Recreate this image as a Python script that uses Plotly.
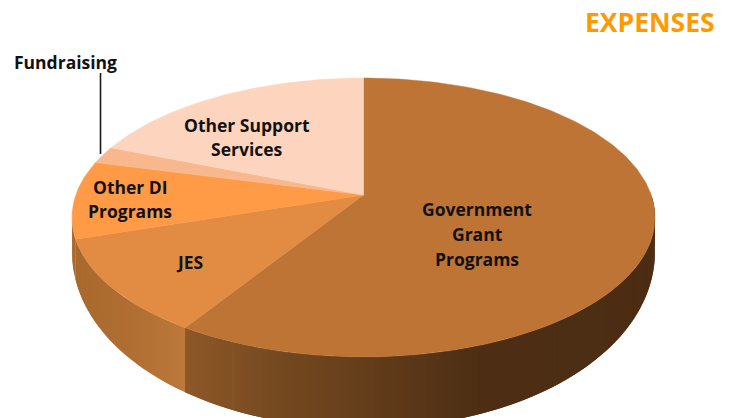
import math
import plotly.graph_objects as go

# ---- data (percent of expenses, clockwise from 12 o'clock)
categories = ["Government Grant Programs", "JES", "Other DI Programs", "Fundraising", "Other Support Services"]
values = [59, 11, 9, 2, 19]
top_colors = ["#BE7434", "#E18C42", "#FF9B47", "#F9B78D", "#FDD5BE"]

# ---- labels
label_lines = [
    (["Government", "Grant", "Programs"], 477, [209, 234, 259]),
    (["JES"], 189, [262]),
    (["Other DI", "Programs"], 130, [187, 211]),
    (["Other Support", "Services"], 247, [125, 149]),
    (["Fundraising"], 65, [62]),
]
title_text = "EXPENSES"

# ---- projection of the tilted disc onto the page
CX, CY = 363.5, 195.0
A, B, P = 287.7, 135.8, 0.161
SEG_DEG = 1.0


def project(theta_deg):
    t = math.radians(theta_deg)
    u, v = math.sin(t), math.cos(t)
    w = 1 + P * v
    return CX + A * u / w, CY - B * v / w


def depth(theta_deg):
    return 26.5 - 45 * math.cos(math.radians(theta_deg))


def wall_color(i, x):
    if i == 0:
        stops = [(185, (0x8E, 0x58, 0x28)), (280, (0x75, 0x49, 0x20)),
                 (480, (0x4D, 0x2E, 0x14)), (729, (0x4B, 0x2D, 0x14))]
    else:
        stops = [(72, (0xA8, 0x69, 0x2E)), (130, (0xB0, 0x6E, 0x32)), (185, (0xBB, 0x78, 0x3A))]
    if x <= stops[0][0]:
        c = stops[0][1]
    elif x >= stops[-1][0]:
        c = stops[-1][1]
    else:
        for (x0, c0), (x1, c1) in zip(stops, stops[1:]):
            if x0 <= x <= x1:
                f = (x - x0) / (x1 - x0)
                c = tuple(c0[k] + (c1[k] - c0[k]) * f for k in range(3))
                break
    return "rgb(%d,%d,%d)" % tuple(round(z) for z in c)


total = sum(values)
bounds = [0.0]
for val in values:
    bounds.append(bounds[-1] + 360.0 * val / total)

fig = go.Figure()

# side wall (only the parts facing the viewer); each strip runs under the next one to hide seams
for i in range(len(values)):
    a0, a1 = max(bounds[i], 90.0), min(bounds[i + 1], 262.0)
    if a1 <= a0:
        continue
    n = max(1, int((a1 - a0) / SEG_DEG))
    step = (a1 - a0) / n
    for k in range(n):
        s0 = a0 + step * k
        s1 = min(a0 + step * (k + 2), a1)
        x0, y0 = project(s0)
        x1, y1 = project(s1)
        xm, _ = project(s0 + step / 2)
        col = wall_color(i, xm)
        fig.add_trace(go.Scatter(
            x=[x0, x1, x1, x0, x0],
            y=[y0, y1, y1 + depth(s1), y0 + depth(s0), y0],
            mode="lines", fill="toself", fillcolor=col,
            line=dict(width=0), hoverinfo="skip", showlegend=False))

# top face
for i, cat in enumerate(categories):
    a0, a1 = bounds[i], bounds[i + 1]
    n = max(2, int((a1 - a0) / SEG_DEG))
    pts = [project(a0 + (a1 - a0) * k / n) for k in range(n + 1)]
    xs = [CX] + [p[0] for p in pts] + [CX]
    ys = [CY] + [p[1] for p in pts] + [CY]
    fig.add_trace(go.Scatter(
        x=xs, y=ys, mode="lines", fill="toself", fillcolor=top_colors[i],
        line=dict(color=top_colors[i], width=0.5), name=cat, hoverinfo="name", showlegend=False))

# leader for Fundraising
lx, ly = project((bounds[3] + bounds[4]) / 2)
fig.add_trace(go.Scatter(x=[100.5, 100.5], y=[73, ly - 1], mode="lines",
                         line=dict(color="#1A1A1A", width=1.6), hoverinfo="skip", showlegend=False))

annotations = []
for lines, x, ys in label_lines:
    for text, y in zip(lines, ys):
        annotations.append(dict(x=x, y=y, text=text, showarrow=False, xanchor="center", yanchor="middle",
                                font=dict(family="Open Sans", size=17.5, color="#111111", weight="bold")))
annotations.append(dict(x=717, y=22, text=title_text, showarrow=False, xanchor="right", yanchor="middle",
                        font=dict(family="Open Sans", size=26.5, color="#FF9900", weight="bold")))

fig.update_layout(
    width=729, height=418, autosize=False,
    margin=dict(l=0, r=0, t=0, b=0),
    paper_bgcolor="white", plot_bgcolor="white",
    xaxis=dict(range=[0, 729], visible=False, fixedrange=True),
    yaxis=dict(range=[418, 0], visible=False, fixedrange=True),
    annotations=annotations,
)
fig.write_html("out.html", post_script="document.body.style.margin='0';document.body.style.overflow='hidden';",
               config={"displayModeBar": False})
